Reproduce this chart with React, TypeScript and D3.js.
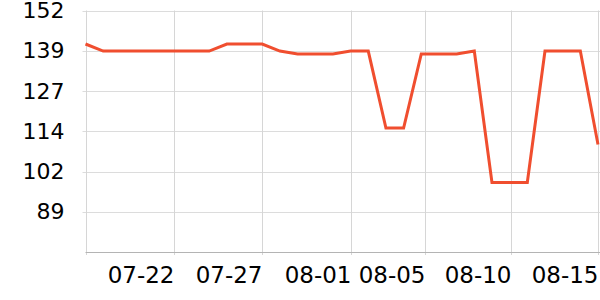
import React from "react";
import * as d3 from "d3";

const dates: string[] = [
  "2024-07-17","2024-07-18","2024-07-19","2024-07-20","2024-07-21","2024-07-22",
  "2024-07-23","2024-07-24","2024-07-25","2024-07-26","2024-07-27","2024-07-28",
  "2024-07-29","2024-07-30","2024-07-31","2024-08-01","2024-08-02","2024-08-03",
  "2024-08-04","2024-08-05","2024-08-06","2024-08-07","2024-08-08","2024-08-09",
  "2024-08-10","2024-08-11","2024-08-12","2024-08-13","2024-08-14","2024-08-15",
];
const values: number[] = [
  141.6, 139.4, 139.4, 139.4, 139.4, 139.4,
  139.4, 139.4, 141.6, 141.6, 141.6, 139.4,
  138.5, 138.5, 138.5, 139.4, 139.4, 115.5,
  115.5, 138.5, 138.5, 138.5, 139.4, 98.6,
  98.6, 98.6, 139.4, 139.4, 139.4, 110.4,
];
const xTickDates: string[] = [
  "2024-07-17T00:00","2024-07-22T00:00","2024-07-27T00:00","2024-08-01T00:00",
  "2024-08-05T04:30","2024-08-10T01:15","2024-08-15T00:00",
];
const xTickLabels: string[] = ["", "07-22", "07-27", "08-01", "08-05", "08-10", "08-15"];
const yMin = 77;
const yMax = 152;
const yTickCount = 6;

export default function App() {
  const W = 600, H = 300;
  const left = 85.5, right = 598, top = 10.5, bottom = 252;
  const parse = (s: string) => new Date(s.length > 10 ? s : s + "T00:00");
  const pts = dates.map((d, i) => ({ d: parse(d), v: values[i] }));
  const x = d3.scaleTime()
    .domain([parse(dates[0]), parse(dates[dates.length - 1])])
    .range([left, right]);
  const y = d3.scaleLinear().domain([yMin, yMax]).range([bottom, top]);
  const yTicks = d3.range(yTickCount + 1).map(i => yMin + (i * (yMax - yMin)) / yTickCount);
  const line = d3.line<{ d: Date; v: number }>()
    .x(p => x(p.d))
    .y(p => y(p.v));
  const font = "DejaVu Sans, sans-serif";
  return (
    <svg width={W} height={H} style={{ position: "absolute", left: 0, top: 0, background: "#fff" }}
      fontFamily={font}>
      {yTicks.map((t, i) => (
        <g key={"y" + i}>
          {i > 0 && (
            <line x1={left - 3} x2={600} y1={Math.round(y(t)) + 0.5} y2={Math.round(y(t)) + 0.5}
              stroke="#dcdcdc" strokeWidth={1} />
          )}
          {i > 0 && (
            <text x={64.5} y={y(t)} dy="0.35em" textAnchor="end" fontSize={22} fill="#000">
              {Math.floor(t)}
            </text>
          )}
        </g>
      ))}
      {xTickDates.map((s, i) => {
        const px = Math.round(x(parse(s))) + 0.5;
        return (
          <g key={"x" + i}>
            <line x1={px} x2={px} y1={top} y2={bottom + 3} stroke="#d6d6d6" strokeWidth={1} />
            <text x={px} y={283} textAnchor="end" fontSize={23} fill="#000">
              {xTickLabels[i]}
            </text>
          </g>
        );
      })}
      <line x1={left} x2={600} y1={bottom + 0.5} y2={bottom + 0.5} stroke="#b4b4b4" strokeWidth={1} />
      <path d={line(pts) || ""} fill="none" stroke="#f04e2f" strokeWidth={3} strokeLinejoin="miter" />
    </svg>
  );
}
